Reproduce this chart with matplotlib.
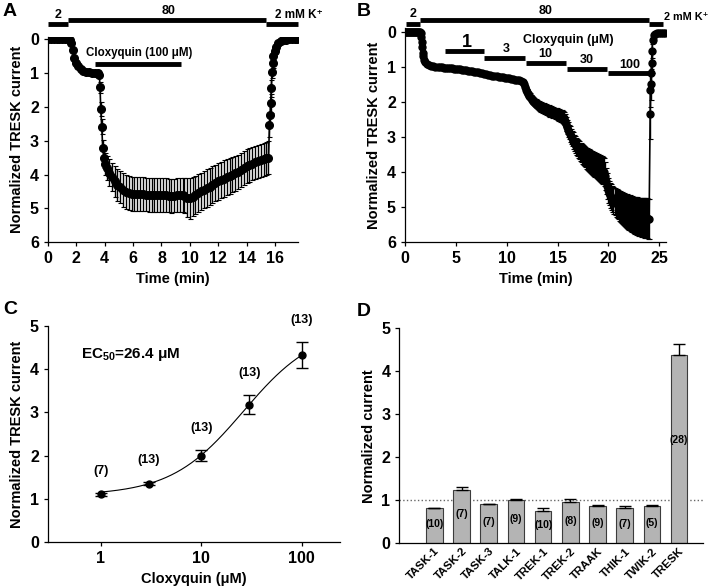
import matplotlib
matplotlib.use("Agg")
import matplotlib.pyplot as plt
import numpy as np

plt.rcParams['font.family'] = ['Liberation Sans', 'DejaVu Sans']
plt.rcParams['font.weight'] = 'bold'
plt.rcParams['axes.labelweight'] = 'bold'
plt.rcParams['mathtext.fontset'] = 'custom'
plt.rcParams['mathtext.rm'] = 'Liberation Sans:bold'
plt.rcParams['mathtext.default'] = 'rm'

# ---- panel A: 100 uM cloxyquin time course ----
a_time = [0.0, 0.2, 0.4, 0.6, 0.8, 1.0, 1.2, 1.4, 1.55, 1.65, 1.75, 1.85, 1.95, 2.1,
          2.3, 2.5, 2.7, 2.9, 3.1, 3.3, 3.5, 3.62, 3.67, 3.72, 3.79, 3.86, 3.95, 4.05,
          4.14, 4.3, 4.5, 4.7, 4.9, 5.1, 5.3, 5.5, 5.7, 5.9, 6.1, 6.3, 6.5, 6.7, 6.9,
          7.1, 7.3, 7.5, 7.7, 7.9, 8.1, 8.3, 8.5, 8.7, 8.9, 9.1, 9.3, 9.5, 9.6, 9.8,
          10.0, 10.2, 10.4, 10.6, 10.8, 11.0, 11.2, 11.4, 11.6, 11.8, 12.0, 12.2, 12.4,
          12.6, 12.8, 13.0, 13.2, 13.4, 13.6, 13.8, 14.0, 14.2, 14.4, 14.6, 14.8, 15.0,
          15.2, 15.4, 15.55, 15.62, 15.66, 15.7, 15.75, 15.8, 15.85, 15.9, 16.0, 16.1,
          16.25, 16.4, 16.6, 16.8, 17.0, 17.2, 17.4, 17.55]
a_mean = [0, 0, 0, 0, 0, 0, 0, 0, 0.03, 0.12, 0.32, 0.55, 0.7, 0.81,
          0.89, 0.93, 0.96, 0.98, 0.99, 1.0, 1.01, 1.05, 1.43, 2.07, 2.59, 3.22, 3.52, 3.68,
          3.8, 3.95, 4.08, 4.2, 4.3, 4.37, 4.45, 4.52, 4.55, 4.57, 4.58, 4.58, 4.57, 4.58, 4.59,
          4.6, 4.6, 4.6, 4.61, 4.6, 4.6, 4.61, 4.62, 4.63, 4.62, 4.61, 4.6, 4.6, 4.62, 4.68,
          4.7, 4.65, 4.6, 4.55, 4.5, 4.45, 4.4, 4.36, 4.3, 4.25, 4.2, 4.16, 4.12,
          4.08, 4.05, 4.0, 3.96, 3.92, 3.86, 3.8, 3.76, 3.72, 3.68, 3.64, 3.61, 3.58,
          3.55, 3.52, 3.5, 2.54, 2.24, 1.9, 1.45, 0.96, 0.72, 0.5, 0.35, 0.23,
          0.12, 0.07, 0.04, 0.02, 0.01, 0.01, 0.01, 0.01]
a_sem = [0, 0, 0, 0, 0, 0, 0, 0, 0.01, 0.02, 0.03, 0.03, 0.03, 0.03,
         0.03, 0.03, 0.03, 0.03, 0.03, 0.03, 0.03, 0.05, 0.17, 0.2, 0.22, 0.25, 0.3, 0.32,
         0.35, 0.4, 0.42, 0.45, 0.47, 0.48, 0.5, 0.5, 0.5, 0.5, 0.5, 0.5, 0.5, 0.5, 0.5,
         0.5, 0.5, 0.5, 0.5, 0.5, 0.5, 0.5, 0.5, 0.5, 0.5, 0.5, 0.5, 0.5, 0.52, 0.58,
         0.6, 0.58, 0.57, 0.56, 0.55, 0.55, 0.55, 0.55, 0.54, 0.54, 0.54, 0.54, 0.54,
         0.53, 0.53, 0.52, 0.52, 0.51, 0.51, 0.5, 0.5, 0.5, 0.49, 0.49, 0.48, 0.48,
         0.48, 0.48, 0.48, 0.35, 0.3, 0.28, 0.25, 0.2, 0.15, 0.12, 0.08, 0.05,
         0.03, 0.02, 0.01, 0, 0, 0, 0, 0]

# ---- panel B: cumulative concentrations ----
b_time = [0.0, 0.1, 0.2, 0.3, 0.4, 0.5, 0.6, 0.7, 0.8, 0.9, 1.0, 1.1, 1.2, 1.3, 1.4, 1.5,
          1.55, 1.6, 1.65, 1.7, 1.75, 1.8, 1.9, 2.0, 2.2, 2.4, 2.6, 2.8, 3.0,
          3.2, 3.4, 3.6, 3.8, 4.0, 4.2, 4.4, 4.6, 4.8, 5.0, 5.2, 5.4, 5.6, 5.8, 6.0,
          6.2, 6.4, 6.6, 6.8, 7.0, 7.2, 7.4, 7.6, 7.8, 8.0, 8.2, 8.4, 8.6, 8.8, 9.0,
          9.2, 9.4, 9.6, 9.8, 10.0, 10.2, 10.4, 10.6, 10.8, 11.0, 11.2, 11.4,
          11.6, 11.7, 11.8, 11.9, 12.0, 12.1, 12.2, 12.3, 12.4, 12.5, 12.6, 12.7, 12.8,
          12.9, 13.0, 13.1, 13.2, 13.3, 13.4, 13.5, 13.6, 13.7, 13.8, 13.9, 14.0, 14.1,
          14.2, 14.3, 14.4, 14.5, 14.6, 14.7, 14.8, 14.9, 15.0, 15.1, 15.2, 15.3, 15.4,
          15.5, 15.6, 15.7, 15.8, 15.9, 16.0, 16.1, 16.2, 16.3, 16.4, 16.5, 16.6, 16.7,
          16.8, 16.9, 17.0, 17.1, 17.2, 17.3, 17.4, 17.5, 17.6, 17.7, 17.8, 17.9, 18.0,
          18.1, 18.2, 18.3, 18.4, 18.5, 18.6, 18.7, 18.8, 18.9, 19.0, 19.1, 19.2, 19.3,
          19.4, 19.5, 19.6, 19.7, 19.8, 19.9, 20.0, 20.1, 20.2, 20.3, 20.4, 20.5, 20.6,
          20.7, 20.8, 20.9, 21.0, 21.1, 21.2, 21.3, 21.4, 21.5, 21.6, 21.7, 21.8, 21.9,
          22.0, 22.1, 22.2, 22.3, 22.4, 22.5, 22.6, 22.7, 22.8, 22.9, 23.0, 23.1, 23.2,
          23.3, 23.4, 23.5, 23.6, 23.7, 23.8, 23.9, 24.0,
          24.1, 24.13, 24.16, 24.2, 24.24, 24.28, 24.35, 24.45, 24.6, 24.8, 25.0, 25.2,
          25.4, 25.6]
b_mean = [0, 0, 0, 0, 0, 0, 0, 0, 0, 0, 0, 0, 0, 0, 0, 0,
          0.05, 0.15, 0.28, 0.45, 0.6, 0.7, 0.8, 0.87, 0.93, 0.96, 0.98, 0.99, 1.0,
          1.0, 1.01, 1.01, 1.02, 1.02, 1.03, 1.03, 1.04, 1.05, 1.05, 1.06, 1.07, 1.08, 1.09, 1.1,
          1.11, 1.12, 1.13, 1.14, 1.15, 1.16, 1.17, 1.18, 1.2, 1.21, 1.22, 1.24, 1.25, 1.26, 1.27,
          1.28, 1.29, 1.3, 1.31, 1.32, 1.33, 1.34, 1.35, 1.37, 1.38, 1.39, 1.41,
          1.43, 1.49, 1.57, 1.65, 1.72, 1.78, 1.82, 1.86, 1.9, 1.94, 1.97, 2.0, 2.03,
          2.05, 2.08, 2.1, 2.12, 2.14, 2.15, 2.17, 2.18, 2.19, 2.2, 2.22, 2.23, 2.24,
          2.26, 2.27, 2.28, 2.3, 2.31, 2.32, 2.33, 2.35, 2.36, 2.37, 2.39, 2.4, 2.42,
          2.44, 2.47, 2.53, 2.62, 2.71, 2.79, 2.86, 2.92, 2.98, 3.04, 3.1, 3.16, 3.21,
          3.26, 3.3, 3.34, 3.38, 3.42, 3.45, 3.48, 3.51, 3.54, 3.57, 3.6, 3.62, 3.65,
          3.67, 3.7, 3.72, 3.74, 3.76, 3.78, 3.8, 3.82, 3.84, 3.86, 3.88, 3.9, 3.92,
          3.94, 3.96, 3.99, 4.1, 4.25, 4.4, 4.52, 4.6, 4.66, 4.71, 4.76, 4.8, 4.84,
          4.87, 4.9, 4.93, 4.96, 4.98, 5.01, 5.03, 5.05, 5.07, 5.09, 5.1, 5.12, 5.14,
          5.15, 5.17, 5.19, 5.2, 5.22, 5.23, 5.24, 5.25, 5.26, 5.27, 5.28, 5.28, 5.29,
          5.3, 5.3, 5.31, 5.31, 5.32, 5.32, 5.33, 5.33,
          2.35, 1.65, 1.5, 1.18, 0.89, 0.56, 0.23, 0.1, 0.06, 0.05, 0.04, 0.04,
          0.04, 0.04]
b_sem = [0, 0, 0, 0, 0, 0, 0, 0, 0, 0, 0, 0, 0, 0, 0, 0,
         0.01, 0.02, 0.03, 0.04, 0.04, 0.04, 0.04, 0.03, 0.03, 0.03, 0.03, 0.03, 0.03,
         0.03, 0.03, 0.03, 0.03, 0.03, 0.03, 0.03, 0.03, 0.03, 0.03, 0.03, 0.03, 0.03, 0.03, 0.03,
         0.03, 0.03, 0.03, 0.03, 0.03, 0.03, 0.03, 0.03, 0.03, 0.03, 0.03, 0.03, 0.03, 0.03, 0.03,
         0.03, 0.03, 0.03, 0.03, 0.03, 0.03, 0.03, 0.04, 0.04, 0.04, 0.04, 0.04,
         0.04, 0.05, 0.06, 0.07, 0.08, 0.09, 0.1, 0.1, 0.11, 0.11, 0.12, 0.12, 0.12,
         0.13, 0.13, 0.13, 0.14, 0.14, 0.14, 0.14, 0.15, 0.15, 0.15, 0.15, 0.15, 0.15,
         0.16, 0.16, 0.16, 0.16, 0.16, 0.16, 0.17, 0.17, 0.17, 0.17, 0.17, 0.18, 0.18,
         0.18, 0.19, 0.19, 0.2, 0.2, 0.21, 0.21, 0.22, 0.22, 0.22, 0.23, 0.23, 0.24,
         0.24, 0.25, 0.25, 0.26, 0.26, 0.27, 0.28, 0.28, 0.29, 0.29, 0.3, 0.31, 0.31,
         0.32, 0.33, 0.33, 0.34, 0.34, 0.35, 0.35, 0.36, 0.36, 0.37, 0.37, 0.38, 0.38,
         0.39, 0.39, 0.4, 0.4, 0.38, 0.37, 0.36, 0.35, 0.35, 0.36, 0.37, 0.38, 0.39,
         0.4, 0.41, 0.42, 0.43, 0.44, 0.45, 0.46, 0.46, 0.47, 0.48, 0.48, 0.49, 0.5,
         0.5, 0.51, 0.51, 0.52, 0.52, 0.53, 0.53, 0.54, 0.54, 0.54, 0.55, 0.55, 0.55,
         0.56, 0.56, 0.56, 0.57, 0.57, 0.57, 0.57, 0.57,
         0.7, 0.5, 0.45, 0.35, 0.3, 0.2, 0.1, 0.04, 0.02, 0, 0, 0,
         0, 0]

# ---- panel C: concentration-response ----
c_conc = [1, 3, 10, 30, 100]
c_mean = [1.1, 1.35, 2.0, 3.18, 4.32]
c_sem = [0.03, 0.04, 0.13, 0.22, 0.3]
c_n = ['(7)', '(13)', '(13)', '(13)', '(13)']
ec50 = 26.4
hill_bottom, hill_top, hill_n = 1.08, 4.98, 1.2

# ---- panel D: K2P channel selectivity ----
d_channels = ['TASK-1', 'TASK-2', 'TASK-3', 'TALK-1', 'TREK-1', 'TREK-2', 'TRAAK',
              'THIK-1', 'TWIK-2', 'TRESK']
d_mean = [0.82, 1.24, 0.91, 1.01, 0.76, 0.95, 0.87, 0.83, 0.86, 4.38]
d_sem = [0.01, 0.08, 0.01, 0.02, 0.06, 0.09, 0.01, 0.03, 0.03, 0.25]
d_n = ['(10)', '(7)', '(7)', '(9)', '(10)', '(8)', '(9)', '(7)', '(5)', '(28)']


def style(ax):
    for s in ['top', 'right']:
        ax.spines[s].set_visible(False)
    for s in ['left', 'bottom']:
        ax.spines[s].set_linewidth(0.9)
    ax.tick_params(direction='out', length=3, width=0.9, labelsize=11.5)


fig = plt.figure(figsize=(7.09, 5.86), dpi=100)
axA = fig.add_axes([0.0677, 0.5865, 0.352, 0.351])
axB = fig.add_axes([0.5712, 0.5865, 0.3687, 0.3654])
axC = fig.add_axes([0.0677, 0.0751, 0.4118, 0.3686])
axD = fig.add_axes([0.5632, 0.0729, 0.4288, 0.3669])

# A
axA.errorbar(a_time, a_mean, yerr=a_sem, fmt='o-', color='black', ms=5.5, lw=1.2,
             ecolor='black', elinewidth=1.0, capsize=1.8, capthick=0.8)
axA.set_xlim(0, 17.6)
axA.set_ylim(6, -0.07)
axA.set_xticks(range(0, 17, 2))
axA.set_yticks(range(0, 7))
axA.set_xlabel('Time (min)', fontsize=10.5)
axA.set_ylabel('Normalized TRESK current', fontsize=10.5)
style(axA)
axA.plot([0, 1.43], [-0.44, -0.44], color='black', lw=3.5, clip_on=False, solid_capstyle='butt')
axA.plot([1.43, 15.36], [-0.56, -0.56], color='black', lw=3.5, clip_on=False, solid_capstyle='butt')
axA.plot([15.36, 17.6], [-0.44, -0.44], color='black', lw=3.5, clip_on=False, solid_capstyle='butt')
axA.text(0.73, -0.72, '2', ha='center', va='center', fontsize=9)
axA.text(8.5, -0.82, '80', ha='center', va='center', fontsize=9)
axA.text(17.7, -0.72, '2 mM K\u207a', ha='center', va='center', fontsize=8.5)
axA.plot([3.32, 9.36], [0.75, 0.75], color='black', lw=3.5, solid_capstyle='butt')
axA.text(6.4, 0.4, 'Cloxyquin (100 \u03bcM)', ha='center', va='center', fontsize=8.3)

# B
axB.errorbar(b_time, b_mean, yerr=b_sem, fmt='o-', color='black', ms=5, lw=1.2,
             ecolor='black', elinewidth=1.0, capsize=1.8, capthick=0.8)
axB.set_xlim(0, 25.7)
axB.set_ylim(6, -0.1)
axB.set_xticks(range(0, 26, 5))
axB.set_yticks(range(0, 7))
axB.set_xlabel('Time (min)', fontsize=10.5)
axB.set_ylabel('Normalized TRESK current', fontsize=10.5)
style(axB)
axB.plot([0.07, 1.5], [-0.23, -0.23], color='black', lw=3.5, clip_on=False, solid_capstyle='butt')
axB.plot([1.5, 24.0], [-0.34, -0.34], color='black', lw=3.5, clip_on=False, solid_capstyle='butt')
axB.plot([24.0, 25.4], [-0.23, -0.23], color='black', lw=3.5, clip_on=False, solid_capstyle='butt')
axB.text(0.8, -0.49, '2', ha='center', va='center', fontsize=9)
axB.text(13.8, -0.58, '80', ha='center', va='center', fontsize=9)
axB.text(25.5, -0.42, '2 mM K\u207a', ha='left', va='center', fontsize=7.8)
drug_bars = [(3.9, 7.8, 0.56, '1', 6.1, 0.3, 13),
             (7.8, 11.8, 0.75, '3', 10.0, 0.5, 9),
             (11.9, 15.8, 0.9, '10', 13.8, 0.64, 9),
             (15.9, 19.9, 1.06, '30', 17.9, 0.82, 9),
             (20.0, 23.9, 1.18, '100', 22.1, 0.96, 9)]
for x0, x1, yb, lab, xt, yt, fs in drug_bars:
    axB.plot([x0, x1], [yb, yb], color='black', lw=3.5, solid_capstyle='butt')
    axB.text(xt, yt, lab, ha='center', va='center', fontsize=fs)
axB.text(16.1, 0.23, 'Cloxyquin (\u03bcM)', ha='center', va='center', fontsize=9)

# C
xfit = np.logspace(0, 2, 200)
yfit = hill_bottom + (hill_top - hill_bottom) / (1 + (ec50 / xfit) ** hill_n)
axC.plot(xfit, yfit, color='black', lw=0.8)
axC.errorbar(c_conc, c_mean, yerr=c_sem, fmt='o', color='black', ms=5,
             ecolor='black', elinewidth=1, capsize=4, capthick=1)
for x, y, e, lab in zip(c_conc, c_mean, c_sem, c_n):
    axC.annotate(lab, (x, y + e), xytext=(0, 16), textcoords='offset points',
                 ha='center', va='center', fontsize=9)
axC.set_xscale('log')
axC.set_xlim(0.3, 240)
axC.set_ylim(0, 5)
axC.set_xticks([1, 10, 100])
axC.set_xticklabels(['1', '10', '100'])
axC.minorticks_off()
axC.set_yticks(range(0, 6))
axC.set_xlabel('Cloxyquin (\u03bcM)', fontsize=10.5)
axC.set_ylabel('Normalized TRESK current', fontsize=10.5)
style(axC)
axC.text(2.0, 4.33, r'EC$_{50}$=26.4 μM', ha='center', va='center', fontsize=11)

# D
xpos = np.arange(len(d_channels))
axD.bar(xpos, d_mean, width=0.61, color='#b4b4b4', edgecolor='#3c3c3c', lw=0.8, zorder=2)
axD.errorbar(xpos, d_mean, yerr=[np.zeros(len(d_sem)), d_sem], fmt='none',
             ecolor='black', elinewidth=1, capsize=4, capthick=1, zorder=3)
axD.axhline(1, color='#666666', ls=':', lw=1, zorder=1)
for x, h, lab in zip(xpos, d_mean, d_n):
    axD.text(x, h * 0.55, lab, ha='center', va='center', fontsize=7.5, zorder=4)
axD.set_xlim(-1.29, 9.89)
axD.set_ylim(0, 5)
axD.set_yticks(range(0, 6))
axD.set_xticks(xpos)
axD.set_ylabel('Normalized current', fontsize=10.5)
style(axD)
axD.set_xticklabels(d_channels, rotation=45, ha='right', va='top',
                    rotation_mode='anchor', fontsize=8.2)
axD.tick_params(axis='x', length=0, pad=2)

for lab, x, y in [('A', 0.004, 0.98), ('B', 0.503, 0.98), ('C', 0.004, 0.471), ('D', 0.503, 0.469)]:
    fig.text(x, y, lab, fontsize=14, fontweight='bold', va='center', ha='left')

fig.savefig('out.png', dpi=100)
